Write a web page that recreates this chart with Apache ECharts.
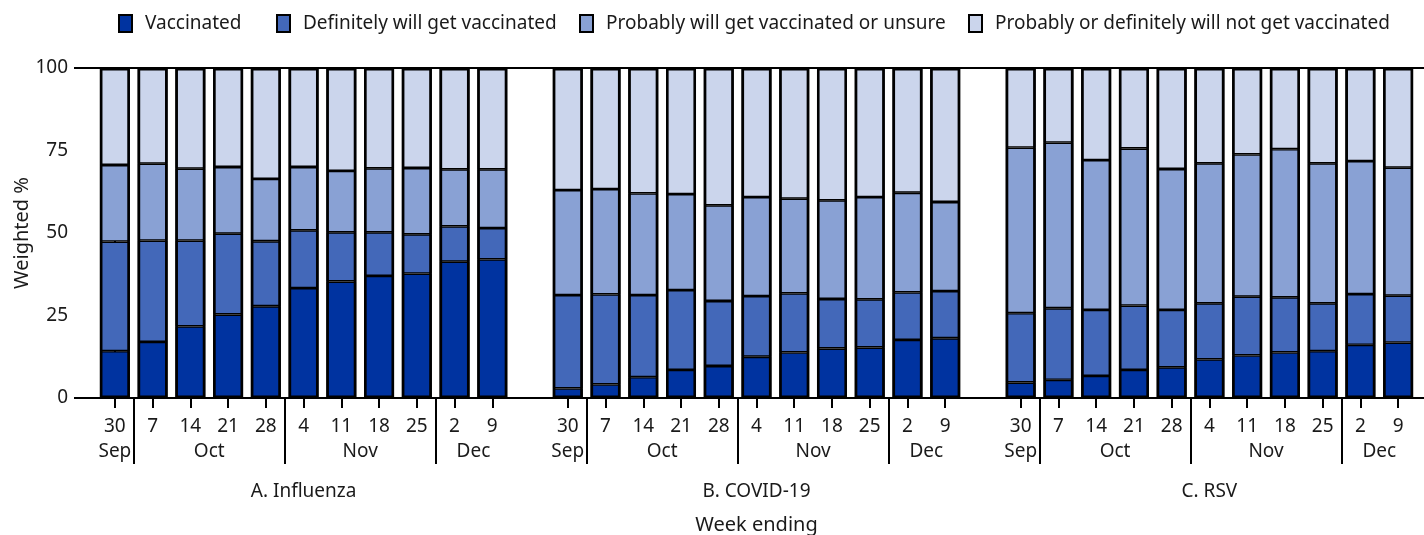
<!DOCTYPE html>
<html>
<head>
<meta charset="utf-8">
<script src="https://cdn.jsdelivr.net/npm/echarts@6/dist/echarts.min.js"></script>
<style>
html,body{margin:0;padding:0;background:#fff;}
#chart{width:1424px;height:535px;}
</style>
</head>
<body>
<div id="chart"></div>
<script>
// ---- Data ----
const weeks = ['30','7','14','21','28','4','11','18','25','2','9'];
const months = ['Sep','Oct','Oct','Oct','Oct','Nov','Nov','Nov','Nov','Dec','Dec'];
const groups = ['A. Influenza','B. COVID-19','C. RSV'];
const seriesNames = ['Vaccinated','Definitely will get vaccinated','Probably will get vaccinated or unsure','Probably or definitely will not get vaccinated'];

// Influenza (weighted %)
const fluVaccinated = [14.2,17.0,21.7,25.3,27.8,33.3,35.3,37.0,37.7,41.3,42.0];
const fluDefinitely = [33.2,30.7,26.0,24.5,19.7,17.5,14.9,13.2,11.9,10.7,9.5];
const fluProbably   = [23.2,23.3,21.8,20.2,18.9,19.2,18.6,19.4,20.1,17.3,17.8];
const fluNot        = [29.4,29.0,30.5,30.0,33.6,30.0,31.2,30.4,30.3,30.7,30.7];
// COVID-19
const covVaccinated = [2.9,4.1,6.3,8.5,9.7,12.5,13.8,15.0,15.3,17.6,18.1];
const covDefinitely = [28.3,27.3,24.9,24.2,19.7,18.4,17.9,15.0,14.6,14.4,14.3];
const covProbably   = [31.8,31.9,30.8,29.1,29.0,30.0,28.7,29.9,31.0,30.2,27.0];
const covNot        = [37.0,36.7,38.0,38.2,41.6,39.1,39.6,40.1,39.1,37.8,40.6];
// RSV
const rsvVaccinated = [4.7,5.5,6.7,8.5,9.3,11.7,12.9,13.8,14.2,16.1,16.8];
const rsvDefinitely = [21.0,21.7,20.0,19.5,17.4,17.0,17.8,16.7,14.5,15.4,14.2];
const rsvProbably   = [50.2,50.2,45.4,47.6,42.7,42.4,43.1,44.9,42.4,40.3,38.8];
const rsvNot        = [24.1,22.6,27.9,24.4,30.6,28.9,26.2,24.6,28.9,28.2,30.2];

const yTicks = [0,25,50,75,100];

// ---- Build ----
const colors = ['#0033a0','#4368b9','#89a1d4','#cbd5ec'];
const textColor = '#1a1a1a';
const FONT = 'Noto Sans';
const FS = 19;
const GAP = 1; // blank categories between panels
const N = weeks.length;
const stride = N + GAP;

const categories = [];
const groupOffsets = [];
groups.forEach((g, gi) => {
  groupOffsets.push(gi * stride);
  weeks.forEach(w => categories.push(w));
  if (gi < groups.length - 1) for (let k = 0; k < GAP; k++) categories.push('');
});

function joinData(a, b, c) {
  const out = [];
  [a, b, c].forEach((arr, gi) => {
    arr.forEach(v => out.push(v));
    if (gi < 2) for (let k = 0; k < GAP; k++) out.push('-');
  });
  return out;
}
const stacks = [
  joinData(fluVaccinated, covVaccinated, rsvVaccinated),
  joinData(fluDefinitely, covDefinitely, rsvDefinitely),
  joinData(fluProbably, covProbably, rsvProbably),
  joinData(fluNot, covNot, rsvNot)
];
// stack totals (for the outer outline of each bar)
const totals = stacks[0].map((v, i) => v === '-' ? '-' :
  +(stacks.reduce((s, arr) => s + arr[i], 0)).toFixed(1));

// month label positions and separators
const monthLabelPos = {};
const separators = [];
groupOffsets.forEach(off => {
  let start = 0;
  for (let i = 1; i <= N; i++) {
    if (i === N || months[i] !== months[i - 1]) {
      monthLabelPos[(off + (start + i - 1) / 2).toFixed(2)] = months[start];
      if (i < N) separators.push(off + i - 0.5);
      start = i;
    }
  }
});
const monthValues = Object.keys(monthLabelPos).map(Number);
const groupPos = {};
groupOffsets.forEach((off, gi) => { groupPos[(off + (N - 1) / 2).toFixed(2)] = groups[gi]; });
const groupValues = Object.keys(groupPos).map(Number);
const nCat = categories.length;

const chart = echarts.init(document.getElementById('chart'), null, {renderer: 'canvas'});

const BW = 30;
const series = stacks.map((d, i) => ({
  name: seriesNames[i],
  type: 'bar',
  stack: 'total',
  xAxisIndex: 0,
  yAxisIndex: 0,
  barWidth: BW,
  barGap: '-100%',
  data: d,
  itemStyle: {color: colors[i], borderColor: '#000', borderWidth: 1.4}
}));
series.push({
  name: 'outline',
  type: 'bar',
  xAxisIndex: 0,
  yAxisIndex: 0,
  barWidth: BW,
  barGap: '-100%',
  z: 5,
  silent: true,
  data: totals,
  itemStyle: {color: 'rgba(0,0,0,0)', borderColor: '#000', borderWidth: 2.6}
});

const legendLefts = [113, 271, 574, 963];
const legends = seriesNames.map((name, i) => ({
  top: 9,
  left: legendLefts[i],
  itemWidth: 13,
  itemHeight: 17,
  icon: 'rect',
  itemStyle: {borderColor: '#000', borderWidth: 2},
  textStyle: {fontFamily: FONT, fontSize: FS, color: textColor, padding: [0, 0, 0, 8]},
  data: [name]
}));

const option = {
  animation: false,
  backgroundColor: '#fff',
  color: colors,
  textStyle: {fontFamily: FONT, color: textColor},
  legend: legends,
  grid: {left: 96, right: 7, top: 68, bottom: 137, containLabel: false, outerBoundsMode: 'none'},
  xAxis: [
    {
      type: 'category',
      data: categories,
      position: 'bottom',
      axisLine: {show: true, lineStyle: {color: '#000', width: 2}},
      axisTick: {
        show: true, alignWithLabel: true, length: 10,
        interval: (i, v) => v !== '',
        lineStyle: {color: '#000', width: 2}
      },
      axisLabel: {interval: 0, fontSize: FS, color: textColor, margin: 19, fontFamily: FONT},
      splitLine: {show: false}
    },
    {
      type: 'value',
      min: -0.5, max: nCat - 0.5,
      position: 'bottom',
      axisLine: {show: false},
      splitLine: {show: false},
      axisTick: {show: true, length: 66, customValues: separators, lineStyle: {color: '#000', width: 2}},
      axisLabel: {
        show: true, customValues: monthValues, fontSize: FS, color: textColor, margin: 44, fontFamily: FONT,
        formatter: v => monthLabelPos[Number(v).toFixed(2)] || ''
      }
    },
    {
      type: 'value',
      min: -0.5, max: nCat - 0.5,
      position: 'bottom',
      axisLine: {show: false},
      splitLine: {show: false},
      axisTick: {show: false},
      axisLabel: {
        show: true, customValues: groupValues, fontSize: FS, color: textColor, margin: 84, fontFamily: FONT,
        formatter: v => groupPos[Number(v).toFixed(2)] || ''
      },
      name: 'Week ending',
      nameLocation: 'middle',
      nameGap: 117,
      nameMoveOverlap: false,
      nameTextStyle: {fontSize: 20, color: textColor, fontFamily: FONT}
    },
    {
      type: 'category',
      data: categories,
      position: 'top',
      axisLine: {show: true, lineStyle: {color: '#000', width: 2}},
      axisTick: {show: false},
      axisLabel: {show: false}
    }
  ],
  yAxis: {
    type: 'value',
    min: 0, max: 100, interval: 25,
    offset: 13,
    axisLine: {show: true, lineStyle: {color: '#000', width: 2}},
    axisTick: {show: true, length: 9, lineStyle: {color: '#000', width: 2}},
    axisLabel: {fontSize: FS, color: textColor, margin: 15, fontFamily: FONT,
      customValues: yTicks},
    splitLine: {show: false},
    name: 'Weighted %',
    nameLocation: 'middle',
    nameGap: 51,
    nameMoveOverlap: false,
    nameTextStyle: {fontSize: 20, color: textColor, fontFamily: FONT}
  },
  series: series
};
chart.setOption(option);

// extend the 0 and 100 frame lines out to the y-axis ticks and page edge
const y0 = chart.convertToPixel({yAxisIndex: 0}, 0);
const y100 = chart.convertToPixel({yAxisIndex: 0}, 100);
chart.setOption({
  graphic: [
    {type: 'line', shape: {x1: 74, y1: y0, x2: 1424, y2: y0}, style: {stroke: '#000', lineWidth: 2}, z: 10},
    {type: 'line', shape: {x1: 74, y1: y100, x2: 1424, y2: y100}, style: {stroke: '#000', lineWidth: 2}, z: 10}
  ]
});
</script>
</body>
</html>
